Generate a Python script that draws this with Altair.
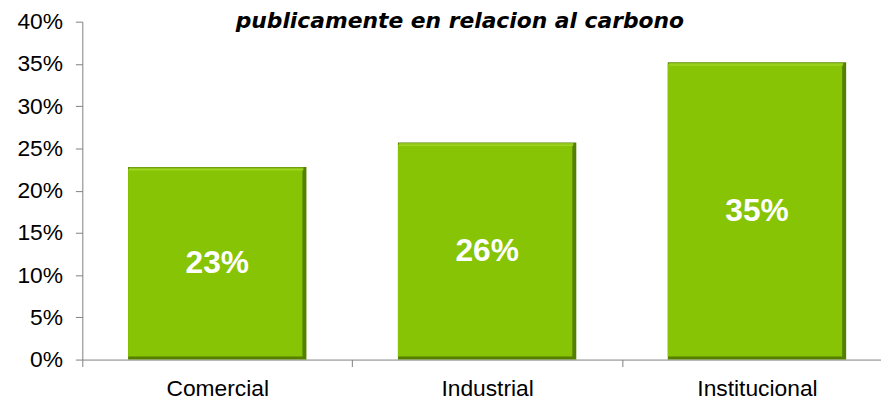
import altair as alt
import pandas as pd

categories = ["Comercial", "Industrial", "Institucional"]
values = [0.228, 0.257, 0.352]
labels = ["23%", "26%", "35%"]
title_text = ["publicamente en relacion al carbono"]

df = pd.DataFrame({"cat": categories, "val": values, "lab": labels})
tdf = pd.DataFrame({"t": title_text})

xenc = alt.X("cat:N", sort=categories, title=None,
             scale=alt.Scale(range=[0, 817], paddingInner=0, paddingOuter=0),
             axis=alt.Axis(labelAngle=0, labelFontSize=23, labelFont="Liberation Sans",
                           labelColor="#000000", tickBand="extent", tickSize=7,
                           tickColor="#808080", domainColor="#808080", labelPadding=11))
yenc = alt.Y("val:Q", title=None,
             scale=alt.Scale(domain=[0, 0.4]),
             axis=alt.Axis(format=".0%", values=[0, .05, .1, .15, .2, .25, .3, .35, .4],
                           labelFontSize=23, labelFont="Liberation Sans", labelColor="#000000",
                           tickSize=7, tickColor="#808080", domainColor="#808080",
                           grid=False, labelPadding=13))

base = alt.Chart(df)

shadow = base.mark_bar(width=180, color="#557F00").encode(x=xenc, y=yenc, y2=alt.datum(0))
main = base.mark_bar(width=176, xOffset=-2, yOffset=2, y2Offset=-3, color="#86C405").encode(
    x=xenc, y=yenc, y2=alt.datum(0))
hilite = base.mark_tick(size=176, thickness=3, xOffset=-1, yOffset=2, color="#A8DD2A").encode(
    x=xenc, y=yenc)
text = base.mark_text(color="white", fontSize=32, fontWeight="bold", font="Liberation Sans",
                      baseline="middle").transform_calculate(mid="datum.val/2").encode(
    x=xenc, y=alt.Y("mid:Q"), text="lab:N")
title = alt.Chart(tdf).mark_text(font="DejaVu Sans", fontSize=22, fontWeight="bold",
                                 fontStyle="italic", baseline="alphabetic", align="center").encode(
    text="t:N", x=alt.value(381), y=alt.value(6))

chart = alt.layer(shadow, main, hilite, text, title).properties(
    width=806, height=341,
    autosize=alt.AutoSizeParams(type="none"),
    padding={"left": 75, "top": 12, "right": 0, "bottom": 40},
).configure_view(stroke=None)

chart.save("out.html", embed_options={"renderer": "svg", "actions": False})
